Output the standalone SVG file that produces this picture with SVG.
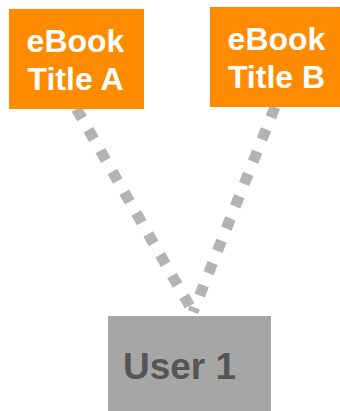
<svg xmlns="http://www.w3.org/2000/svg" width="340" height="411" viewBox="0 0 340 411">
<style>
.conn{stroke:#b3b3b3;stroke-width:11;stroke-dasharray:11 13;fill:none}
.book rect{fill:#ff8c00}
.book text{fill:#ffffff;font-family:"Liberation Sans",Arial,sans-serif;font-weight:bold;font-size:32px;text-anchor:middle}
.user rect{fill:#a6a6a6}
.user text{fill:#555555;font-family:"Liberation Sans",Arial,sans-serif;font-weight:bold;font-size:37px;text-anchor:middle}
</style>
<rect width="340" height="411" fill="#ffffff"/>
<g id="connectors">
<line class="conn" x1="76.5" y1="109" x2="193" y2="312"/>
<line class="conn" x1="275" y1="107" x2="193" y2="312"/>
</g>
<g id="bookA" class="book">
<rect x="9" y="9" width="135" height="100"/>
<text x="75.5" y="52">eBook</text>
<text x="75.5" y="90">Title A</text>
</g>
<g id="bookB" class="book">
<rect x="210" y="7" width="130" height="100"/>
<text x="276.5" y="50">eBook</text>
<text x="276.5" y="88">Title B</text>
</g>
<g id="user1" class="user">
<rect x="108" y="316" width="163" height="95"/>
<text x="179.5" y="378.5">User 1</text>
</g>
</svg>
